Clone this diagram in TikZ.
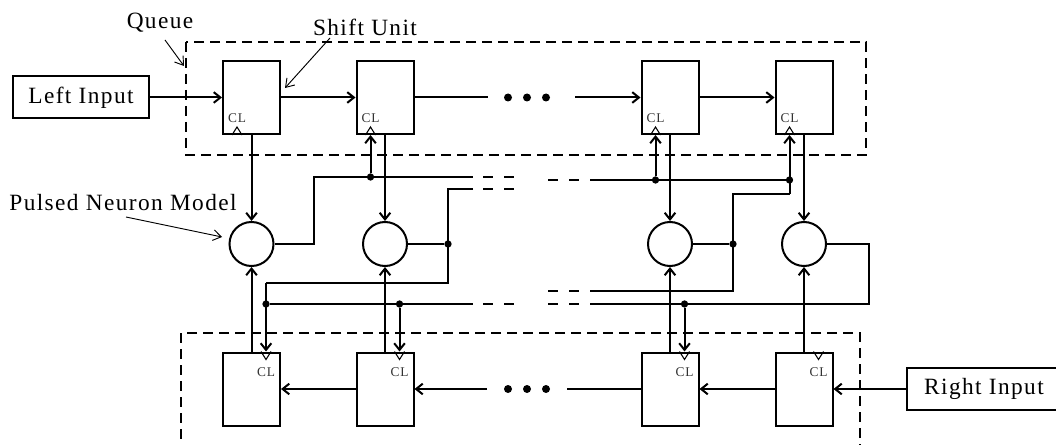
\documentclass[tikz,border=0pt]{standalone}
\usepackage{fontspec}
\setmainfont{Liberation Serif}[LetterSpace=6]
\usetikzlibrary{arrows.meta}
\tikzset{
  wire/.style    = {line width=1.5pt},
  awire/.style   = {line width=1.5pt, -{Straight Barb[length=5pt,width=8pt]}},
  pwire/.style   = {line width=0.7pt, -{Straight Barb[length=6pt,width=8pt]}},
  shu/.style     = {draw, line width=1.5pt, minimum width=42.75pt,
                    minimum height=54.75pt, inner sep=0pt},
  neu/.style     = {draw, circle, line width=1.5pt, minimum size=33pt, inner sep=0pt},
  inbox/.style   = {draw, line width=1.5pt, minimum height=31.5pt, inner sep=0pt,
                    font=\fontsize{17.5}{19}\selectfont},
  qbox/.style    = {draw, line width=1.5pt, dash pattern=on 7.5pt off 4.5pt},
  busdash/.style = {line width=1.5pt, dash pattern=on 7.5pt off 8.25pt},
  jdot/.style    = {circle, fill=black, inner sep=0pt, minimum size=5.5pt},
  edot/.style    = {circle, fill=black, inner sep=0pt, minimum size=6pt},
  clk/.style     = {font=\fontsize{10}{11}\selectfont, inner sep=0pt, text=black!80},
  lbl/.style     = {font=\fontsize{17.5}{19}\selectfont, inner sep=0pt},
  trig/.style    = {line width=0.8pt},
}

\begin{document}
\begin{tikzpicture}[x=0.75pt,y=-0.75pt]
  \useasboundingbox (0,0) rectangle (1056,445);
  \clip (0,0) rectangle (1056,445);
  \draw[qbox] (186,42) rectangle (866,155);
  \draw[qbox] (181,333) rectangle (860,470);
  \node[inbox, minimum width=102pt] (li) at (81,97.5) {Left Input};
  \node[inbox, minimum width=115.5pt, anchor=west] (ri) at (906,389) {Right Input};
  \node[shu] (t1) at (251.5,97.5) {};
  \node[shu] (t2) at (385,97.5) {};
  \node[shu] (t3) at (670,97.5) {};
  \node[shu] (t4) at (804,97.5) {};
  \node[shu] (b1) at (251.5,389) {};
  \node[shu] (b2) at (385,389) {};
  \node[shu] (b3) at (670,389) {};
  \node[shu] (b4) at (804,389) {};
  \node[neu] (n1) at (251.5,244) {};
  \node[neu] (n2) at (385,244) {};
  \node[neu] (n3) at (670,244) {};
  \node[neu] (n4) at (804,244) {};
  \coordinate (tc1) at ([xshift=-10.875pt]t1.south);
  \coordinate (tc2) at ([xshift=-10.875pt]t2.south);
  \coordinate (tc3) at ([xshift=-10.875pt]t3.south);
  \coordinate (tc4) at ([xshift=-10.875pt]t4.south);
  \coordinate (bc1) at ([xshift=10.875pt]b1.north);
  \coordinate (bc2) at ([xshift=10.875pt]b2.north);
  \coordinate (bc3) at ([xshift=10.875pt]b3.north);
  \coordinate (bc4) at ([xshift=10.875pt]b4.north);
  \draw[trig] (tc1) ++(-5,0) -- ++(5,-8) -- ++(5,8);
  \draw[trig] (tc2) ++(-5,0) -- ++(5,-8) -- ++(5,8);
  \draw[trig] (tc3) ++(-5,0) -- ++(5,-8) -- ++(5,8);
  \draw[trig] (tc4) ++(-5,0) -- ++(5,-8) -- ++(5,8);
  \draw[trig] (bc1) ++(-5,0) -- ++(5,8) -- ++(5,-8);
  \draw[trig] (bc2) ++(-5,0) -- ++(5,8) -- ++(5,-8);
  \draw[trig] (bc3) ++(-5,0) -- ++(5,8) -- ++(5,-8);
  \draw[trig] (bc4) ++(-5,0) -- ++(5,8) -- ++(5,-8);
  \node[clk] (tl1) at ([yshift=13pt]tc1) {CL};
  \node[clk] (tl2) at ([yshift=13pt]tc2) {CL};
  \node[clk] (tl3) at ([yshift=13pt]tc3) {CL};
  \node[clk] (tl4) at ([yshift=13pt]tc4) {CL};
  \node[clk] (bl1) at ([yshift=-15.5pt]bc1) {CL};
  \node[clk] (bl2) at ([yshift=-15.5pt]bc2) {CL};
  \node[clk] (bl3) at ([yshift=-15.5pt]bc3) {CL};
  \node[clk] (bl4) at ([yshift=-15.5pt]bc4) {CL};
  \coordinate (tg1) at (488,97.5);
  \coordinate (tg2) at (575,97.5);
  \coordinate (bg1) at (567,389);
  \coordinate (bg2) at (487,389);
  \node[edot] (te1) at (508,97.5) {};
  \node[edot] (te2) at (527,97.5) {};
  \node[edot] (te3) at (546,97.5) {};
  \node[edot] (be1) at (508,389) {};
  \node[edot] (be2) at (527,389) {};
  \node[edot] (be3) at (546,389) {};
  \draw[awire] (li) -- (t1);
  \draw[awire] (t1) -- (t2);
  \draw[wire] (t2.east) -- (tg1);
  \draw[awire] (tg2) -- (t3.west);
  \draw[awire] (t3) -- (t4);
  \draw[awire] (ri) -- (b4);
  \draw[awire] (b4) -- (b3);
  \draw[wire] (b3.west) -- (bg1);
  \draw[awire] (bg2) -- (b2.east);
  \draw[awire] (b2) -- (b1);
  \draw[awire] (t1) -- (n1);
  \draw[awire] (t2) -- (n2);
  \draw[awire] (t3) -- (n3);
  \draw[awire] (t4) -- (n4);
  \draw[awire] (b1) -- (n1);
  \draw[awire] (b2) -- (n2);
  \draw[awire] (b3) -- (n3);
  \draw[awire] (b4) -- (n4);
  \coordinate (ua) at (314,177);
  \coordinate (ul1) at (473,177);
  \node[jdot] (j1) at (370.5,177) {};
  \draw[wire] (n1.east) -| (ua) -- (ul1);
  \draw[awire] (j1) -- (tc2);
  \coordinate (ul2) at (473,189);
  \coordinate (k1) at (448,189);
  \coordinate (k2) at (448,283);
  \coordinate (k3) at (266,283);
  \node[jdot] (j2) at (448,244) {};
  \node[jdot] (j3) at (266,304) {};
  \node[jdot] (j4) at (399.5,304) {};
  \coordinate (ul3) at (473,304);
  \draw[wire] (n2.east) -- (j2);
  \draw[wire] (ul2) -- (k1) -- (k2) -- (k3);
  \draw[awire] (k3) -- (bc1);
  \draw[wire] (j3) -- (ul3);
  \draw[awire] (j4) -- (bc2);
  \coordinate (ur1) at (590,180);
  \node[jdot] (j5) at (655.5,180) {};
  \node[jdot] (j6) at (789.5,180) {};
  \coordinate (k4) at (789.5,194);
  \coordinate (k5) at (733,194);
  \coordinate (k6) at (733,291);
  \coordinate (ur2) at (590,291);
  \node[jdot] (j7) at (733,244) {};
  \draw[wire] (ur1) -- (j6);
  \draw[awire] (j5) -- (tc3);
  \draw[awire] (k4) -- (tc4);
  \draw[wire] (k4) -- (k5) -- (k6) -- (ur2);
  \draw[wire] (n3.east) -- (j7);
  \coordinate (k7) at (869,244);
  \coordinate (k8) at (869,304);
  \coordinate (ur3) at (590,304);
  \node[jdot] (j8) at (684.5,304) {};
  \draw[wire] (n4.east) -- (k7) -- (k8) -- (ur3);
  \draw[awire] (j8) -- (bc3);
  \draw[busdash] (ul1) ++(10,0) -- ++(32,0);
  \draw[busdash] (ul2) ++(10,0) -- ++(32,0);
  \draw[busdash] (ul3) ++(10,0) -- ++(32,0);
  \draw[busdash] (ur1) ++(-42,0) -- ++(32,0);
  \draw[busdash] (ur2) ++(-42,0) -- ++(32,0);
  \draw[busdash] (ur3) ++(-42,0) -- ++(32,0);
  \node[lbl] (ql) at (160,23) {Queue};
  \node[lbl] (sl) at (365,27) {Shift Unit};
  \node[lbl] (pl) at (123,203) {Pulsed Neuron Model};
  \coordinate (qa) at (165,40);
  \coordinate (qb) at (184,66);
  \coordinate (sa) at (330,38);
  \coordinate (sb) at (285,88);
  \coordinate (pa) at (126,217);
  \coordinate (pb) at (222,237);
  \draw[pwire] (qa) -- (qb);
  \draw[pwire] (sa) -- (sb);
  \draw[pwire] (pa) -- (pb);
\end{tikzpicture}
\end{document}
